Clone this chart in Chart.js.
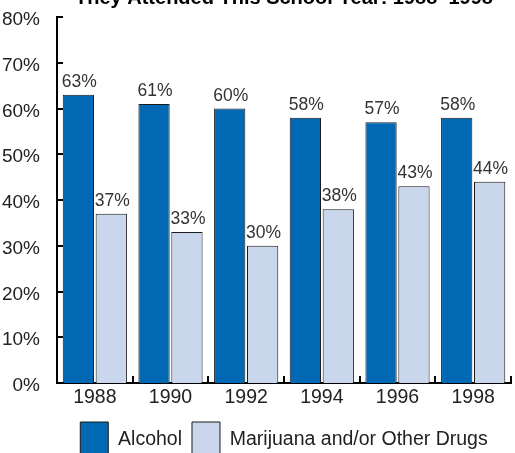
<!DOCTYPE html>
<html>
<head>
<meta charset="utf-8">
<script src="https://cdn.jsdelivr.net/npm/chart.js@4"></script>
<style>
  html, body { margin: 0; padding: 0; background: #fff; overflow: hidden; }
  body { width: 515px; height: 453px; position: relative; }
  #wrap { position: absolute; left: 0; top: -20px; width: 515px; height: 488px; }
</style>
</head>
<body>
<div id="wrap"><canvas id="chart"></canvas></div>
<script>
const years = ["1988", "1990", "1992", "1994", "1996", "1998"];
const alcohol = [63, 61, 60, 58, 57, 58];
const otherDrugs = [37, 33, 30, 38, 43, 44];
const yTicks = [0, 10, 20, 30, 40, 50, 60, 70, 80];

const FONT = "'Liberation Sans', Arial, sans-serif";

// inward tick marks, y labels sitting a touch below their ticks,
// and the % labels over each bar
const axisMarks = {
  id: "axisMarks",
  afterDatasetsDraw(chart) {
    const c = chart.ctx;
    const x = chart.scales.x, y = chart.scales.y;
    const area = chart.chartArea;
    c.save();
    c.strokeStyle = "#000";
    c.lineWidth = 2;
    c.beginPath();
    yTicks.forEach(v => {
      const py = Math.round(y.getPixelForValue(v));
      c.moveTo(area.left, py);
      c.lineTo(area.left + 6, py);
    });
    for (let i = 0; i < years.length; i++) {
      const px = i < years.length - 1
        ? (x.getPixelForValue(i) + x.getPixelForValue(i + 1)) / 2
        : area.right;
      c.moveTo(Math.round(px), area.bottom);
      c.lineTo(Math.round(px), area.bottom - 7);
    }
    c.stroke();

    c.fillStyle = "#222";
    c.font = "19px " + FONT;
    c.textAlign = "right";
    c.textBaseline = "middle";
    yTicks.forEach(v => {
      c.fillText(v + "%", area.left - 17, y.getPixelForValue(v) + 3);
    });

    c.fillStyle = "#333";
    c.font = "17.5px " + FONT;
    c.textAlign = "center";
    c.textBaseline = "bottom";
    chart.data.datasets.forEach((ds, di) => {
      chart.getDatasetMeta(di).data.forEach((bar, i) => {
        c.fillText(ds.data[i] + "%", bar.x + 1, bar.y - 4);
      });
    });
    c.restore();
  }
};

new Chart(document.getElementById("chart"), {
  type: "bar",
  data: {
    labels: years,
    datasets: [
      {
        label: "Alcohol",
        data: alcohol,
        backgroundColor: "#0168b3",
        borderColor: "#1a1a1a",
        borderWidth: 1,
        categoryPercentage: 0.87,
        barPercentage: 0.95
      },
      {
        label: "Marijuana and/or Other Drugs",
        data: otherDrugs,
        backgroundColor: "#cad6ec",
        borderColor: "#1a1a1a",
        borderWidth: 1,
        categoryPercentage: 0.87,
        barPercentage: 0.95
      }
    ]
  },
  options: {
    responsive: true,
    maintainAspectRatio: false,
    animation: false,
    layout: { padding: { left: 2, right: 4 } },
    plugins: {
      title: {
        display: true,
        text: "They Attended This School Year: 1988\u20131998",
        fullSize: false,
        color: "#000",
        font: { family: FONT, size: 20, weight: "bold" },
        padding: { top: 6, bottom: 7 }
      },
      legend: {
        position: "bottom",
        fullSize: false,
        labels: {
          boxWidth: 28,
          boxHeight: 36,
          padding: 10,
          color: "#222",
          font: { family: FONT, size: 19.5 }
        }
      },
      tooltip: { enabled: false }
    },
    scales: {
      x: {
        grid: { display: false, drawTicks: false },
        border: { display: true, color: "#000", width: 2 },
        ticks: {
          color: "#222",
          font: { family: FONT, size: 19.5 },
          padding: 3
        },
        afterFit: s => { s.height = 29; }
      },
      y: {
        min: 0,
        max: 80,
        grid: { display: false, drawTicks: false },
        border: { display: true, color: "#000", width: 2 },
        ticks: { stepSize: 10, display: false },
        afterFit: s => { s.width = 55; }
      }
    }
  },
  plugins: [axisMarks]
});
</script>
</body>
</html>
